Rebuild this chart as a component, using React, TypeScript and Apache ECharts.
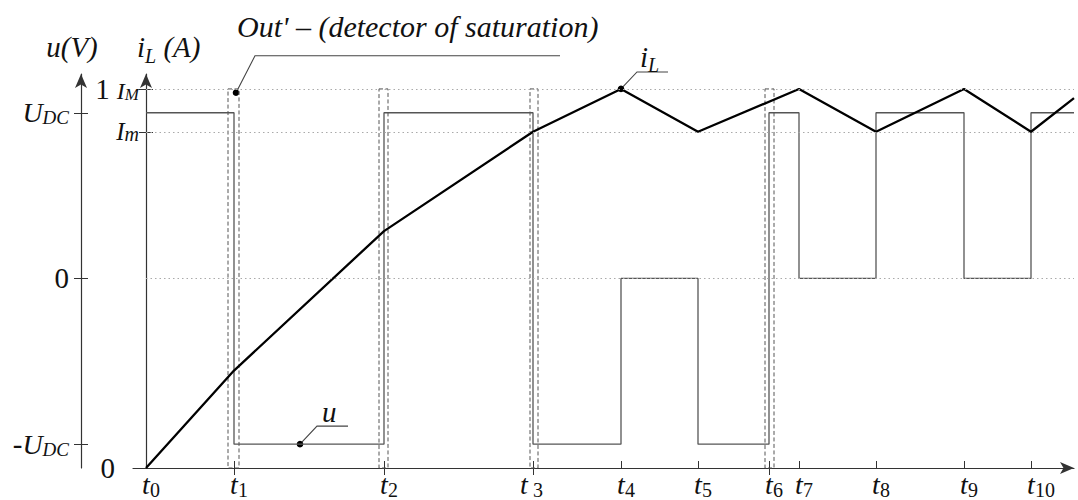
import React, { useEffect, useRef } from "react";
import * as echarts from "echarts";

// ---------- data ----------
const tickSubs = ["0", "1", "2", " 3", "4", "5", "6", "7", "8", "9", "10"];
const tTimes = [0, 88, 238, 387, 475, 552, 623, 653, 730, 818, 885];
const tStart = -13;
const tEnd = 928;

// inverter voltage u (in units of U_DC), level held from each instant until the next
const uTimes = [0, 88, 238, 387, 475, 552, 623, 653, 730, 818, 885, 928];
const uLevels = [1, -1, 1, -1, 0, -1, 1, 0, 1, 0, 1, 1];

// inductor current i_L (normalised, I_M = 1)
const iLTimes = [0, 88, 238, 387, 475, 552, 653, 730, 818, 885, 928];
const iLValues = [0, 0.257, 0.625, 0.887, 1, 0.887, 1, 0.887, 1, 0.887, 0.976];

const IM = 1;
const Im = 0.887;

// saturation-detector windows around switching instants
const detectorWindows = [
  [82, 93],
  [233, 242],
  [384, 392],
  [619, 628],
];
const crossTicks = [88, 238, 387, 623];

// axis extents
const iLMin = 0;
const iLMax = 1.0394;
const uMin = -1.144;
const uMax = 1.234;

// annotation anchors (data coordinates)
const outAnchor = [90, 0.99];
const uAnchor = [154, -1];
const iLAnchor = [475, 1];

const SERIF = "Liberation Serif";
const INK = "#111";

function xLabel(v: number) {
  const i = tTimes.indexOf(v);
  if (i < 0) return "";
  const s = tickSubs[i];
  if (s.startsWith(" ")) return `{tp|t}{s3|${s}}`;
  return s.length > 1 ? `{tw|t}{s|${s}}` : `{t|t}{s|${s}}`;
}

function uLabel(v: number) {
  if (v === 1) return "{U|U}{D|DC}";
  if (v === -1) return "{n|-}{U|U}{D|DC}";
  if (v === 0) return "{n|0}";
  return "";
}

function iLLabel(v: number) {
  if (v === IM) return "{n|1} {I|I}{M|M}";
  if (v === Im) return "{I2|I}{m|m}";
  if (v === 0) return "{z|0}";
  return "";
}

export default function App() {
  const ref = useRef<HTMLDivElement>(null);

  useEffect(() => {
    const el = ref.current!;
    const chart = echarts.init(el, null, { renderer: "svg" });

    const axisLineStyle = { color: "#333", width: 1.2 };
    const tickStyle = { color: "#333", width: 1 };
    const it = (size: number, extra: any = {}) => ({
      fontFamily: SERIF,
      fontStyle: "italic",
      fontSize: size,
      color: INK,
      verticalAlign: "bottom",
      ...extra,
    });
    const up = (size: number, extra: any = {}) => ({
      fontFamily: SERIF,
      fontStyle: "normal",
      fontSize: size,
      color: INK,
      verticalAlign: "bottom",
      ...extra,
    });

    const option: any = {
      animation: false,
      backgroundColor: "#fff",
      textStyle: { fontFamily: SERIF },
      grid: { left: 133, right: 4, top: 74, bottom: 30, containLabel: false },
      xAxis: [
        {
          type: "value",
          position: "bottom",
          min: tStart,
          max: tEnd,
          axisLine: {
            show: true,
            onZero: false,
            symbol: ["none", "arrow"],
            symbolSize: [9, 14],
            lineStyle: axisLineStyle,
          },
          axisTick: { show: true, inside: true, length: 7, customValues: tTimes, lineStyle: tickStyle },
          axisLabel: {
            show: true,
            customValues: tTimes,
            margin: 2,
            color: INK,
            fontFamily: SERIF,
            fontSize: 28,
            formatter: xLabel,
            rich: {
              t: it(28, { padding: [0, 0, 2, 10] }),
              tw: it(28, { padding: [0, 0, 2, 20] }),
              tp: it(28, { padding: [0, 0, 2, 0] }),
              s: up(20),
              s3: up(20, { padding: [0, 3, 0, 0] }),
            },
          },
          splitLine: { show: false },
        },
        {
          type: "value",
          position: "bottom",
          min: tStart,
          max: tEnd,
          axisLine: { show: false, onZero: false },
          axisTick: { show: true, inside: false, length: 7, customValues: crossTicks, lineStyle: tickStyle },
          axisLabel: { show: false },
          splitLine: { show: false },
        },
      ],
      yAxis: [
        {
          type: "value",
          position: "left",
          min: iLMin,
          max: iLMax,
          axisLine: {
            show: true,
            onZero: true,
            onZeroAxisIndex: 0,
            symbol: ["none", "arrow"],
            symbolSize: [9, 14],
            lineStyle: axisLineStyle,
          },
          axisTick: { show: true, inside: false, length: 7, customValues: [Im, IM], lineStyle: tickStyle },
          axisLabel: {
            show: true,
            customValues: [0, Im, IM],
            margin: -6,
            color: INK,
            fontFamily: SERIF,
            fontSize: 28,
            formatter: iLLabel,
            rich: {
              n: up(29),
              I: it(24),
              M: it(17),
              I2: it(25),
              m: it(20),
              z: up(29, { verticalAlign: "middle", padding: [0, 24, 0, 0] }),
            },
          },
          splitLine: { show: false },
        },
        {
          type: "value",
          position: "left",
          min: iLMin,
          max: iLMax,
          axisLine: { show: true, onZero: true, onZeroAxisIndex: 0, lineStyle: { opacity: 0 } },
          axisTick: { show: true, inside: true, length: 7, customValues: [Im, IM], lineStyle: tickStyle },
          axisLabel: { show: false },
          splitLine: { show: false },
        },
        {
          type: "value",
          position: "left",
          offset: 52,
          min: uMin,
          max: uMax,
          axisLine: {
            show: true,
            onZero: false,
            symbol: ["none", "arrow"],
            symbolSize: [9, 14],
            lineStyle: axisLineStyle,
          },
          axisTick: { show: true, inside: false, length: 7, customValues: [-1, 0, 1], lineStyle: tickStyle },
          axisLabel: {
            show: true,
            customValues: [-1, 0, 1],
            margin: 12,
            color: INK,
            fontFamily: SERIF,
            fontSize: 28,
            formatter: uLabel,
            rich: {
              n: up(29),
              U: it(28),
              D: it(19),
            },
          },
          splitLine: { show: false },
        },
        {
          type: "value",
          position: "left",
          offset: 52,
          min: uMin,
          max: uMax,
          axisLine: { show: true, onZero: false, lineStyle: { opacity: 0 } },
          axisTick: { show: true, inside: true, length: 7, customValues: [-1, 0, 1], lineStyle: tickStyle },
          axisLabel: { show: false },
          splitLine: { show: false },
        },
      ],
      series: [
        {
          name: "u",
          type: "line",
          xAxisIndex: 0,
          yAxisIndex: 2,
          step: "end",
          symbol: "none",
          data: uTimes.map((t, i) => [t, uLevels[i]]),
          lineStyle: { color: "#555", width: 1.3 },
          z: 2,
          markLine: {
            silent: true,
            symbol: ["none", "none"],
            label: { show: false },
            lineStyle: { color: "#aaa", width: 1, type: [1.5, 3] },
            data: [[{ coord: [0, 0] }, { coord: [tEnd, 0] }]],
          },
        },
        {
          name: "iL",
          type: "line",
          xAxisIndex: 0,
          yAxisIndex: 0,
          symbol: "none",
          data: iLTimes.map((t, i) => [t, iLValues[i]]),
          lineStyle: { color: "#000", width: 2.3 },
          z: 3,
          markLine: {
            silent: true,
            symbol: ["none", "none"],
            label: { show: false },
            lineStyle: { color: "#aaa", width: 1, type: [1.5, 3] },
            data: [
              [{ coord: [0, IM] }, { coord: [tEnd, IM] }],
              [{ coord: [0, Im] }, { coord: [tEnd, Im] }],
            ],
          },
          markArea: {
            silent: true,
            itemStyle: { color: "rgba(0,0,0,0)", borderColor: "#555", borderWidth: 1, borderType: [4, 2.5] },
            data: detectorWindows.map(([a, b]) => [{ coord: [a, IM] }, { coord: [b, 0] }]),
          },
        },
      ],
    };

    chart.setOption(option);

    const toPx = (seriesIndex: number, v: number[]) =>
      chart.convertToPixel({ seriesIndex } as any, v) as unknown as number[];

    const graphics: any[] = [];
    const leader = (p: number[], dx: number, dy: number, run: number) => {
      const e = [p[0] + dx, p[1] + dy];
      graphics.push({
        type: "polyline",
        silent: true,
        shape: { points: [p, e, [e[0] + run, e[1]]] },
        style: { stroke: "#444", lineWidth: 1.1, fill: null },
      });
      graphics.push({
        type: "circle",
        silent: true,
        shape: { cx: p[0], cy: p[1], r: 3.3 },
        style: { fill: "#000" },
      });
      return e;
    };
    const tStyle = (text: string, size: number, align: string) => ({
      text,
      fontFamily: SERIF,
      fontStyle: "italic",
      fontSize: size,
      fill: INK,
      align,
      verticalAlign: "middle",
    });
    const richI = {
      i: { fontFamily: SERIF, fontStyle: "italic", fontSize: 29, fill: INK, verticalAlign: "bottom", padding: [0, 0, 4, 0] },
      L: { fontFamily: SERIF, fontStyle: "italic", fontSize: 20, fill: INK, verticalAlign: "bottom" },
      a: { fontFamily: SERIF, fontStyle: "italic", fontSize: 29, fill: INK, verticalAlign: "bottom", padding: [0, 0, 4, 0] },
    };

    // Out' – detector of saturation
    const pOut = toPx(1, outAnchor);
    const eOut = leader(pOut, 19, -37, 305);
    graphics.push({
      type: "text",
      x: eOut[0] - 18,
      y: eOut[1] - 29,
      style: tStyle("Out' – (detector of saturation)", 30, "left"),
    });

    // u
    const pU = toPx(0, uAnchor);
    const eU = leader(pU, 17, -18, 31);
    graphics.push({ type: "text", x: eU[0] + 5, y: eU[1] - 14, style: tStyle("u", 29, "left") });

    // i_L
    const pI = toPx(1, iLAnchor);
    const eI = leader(pI, 16, -17, 31);
    graphics.push({
      type: "text",
      x: eI[0] + 3,
      y: eI[1] - 13,
      style: { text: "{i|i}{L|L}", align: "left", verticalAlign: "middle", rich: richI },
    });

    // axis titles
    const origin = toPx(1, [0, 0]);
    const uAxisX = 133 - 52;
    graphics.push({ type: "text", x: uAxisX - 9, y: 47, style: tStyle("u(V)", 29, "center") });
    graphics.push({
      type: "text",
      x: origin[0] - 9,
      y: 49,
      style: { text: "{i|i}{L|L}{a| (A)}", align: "left", verticalAlign: "middle", rich: richI },
    });

    chart.setOption({ graphic: graphics });

    return () => chart.dispose();
  }, []);

  return (
    <div
      ref={ref}
      style={{ position: "fixed", left: 0, top: 0, width: 1078, height: 500, background: "#fff" }}
    />
  );
}
